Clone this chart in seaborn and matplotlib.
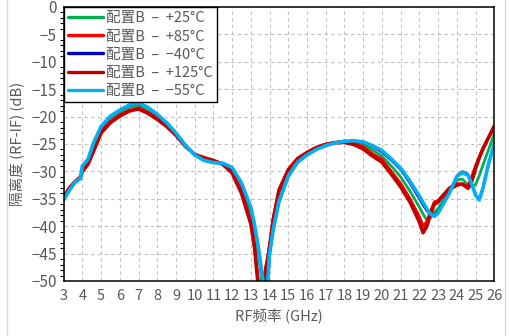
import matplotlib
matplotlib.use('Agg')
import matplotlib.pyplot as plt
import seaborn as sns
from matplotlib.lines import Line2D
from matplotlib.ticker import MultipleLocator

# frequency points (GHz)
freq = [3.0, 3.3, 3.6, 3.9, 4.0, 4.3, 4.6, 5.0, 5.5, 6.0, 6.5, 7.0, 7.5, 8.0, 8.5,
        9.0, 9.5, 10.0, 10.5, 11.0, 11.5, 12.0, 12.5, 13.0, 13.2, 13.4, 13.5, 13.6,
        13.7, 13.8, 13.9, 14.0, 14.2, 14.5, 15.0, 15.5, 16.0, 16.5, 17.0, 17.5, 18.0,
        18.5, 19.0, 19.5, 20.0, 20.5, 21.0, 21.5, 22.0, 22.2, 22.4, 22.6, 22.8, 23.0,
        23.3, 23.6, 24.0, 24.3, 24.6, 24.8, 25.0, 25.2, 25.4, 25.7, 26.0]

iso_p25 = [-35.0, -33.3, -32.0, -31.2, -29.3, -28.0, -25.3, -22.2, -20.3, -19.2, -18.3, -17.9, -18.6, -19.8, -21.3,
           -23.1, -25.2, -27.0, -27.9, -28.3, -28.6, -29.6, -32.5, -37.6, -41.0, -45.0, -47.5, -51.0,
           -58.0, -51.0, -47.0, -44.0, -39.5, -34.8, -30.4, -28.0, -26.8, -25.8, -25.1, -24.7, -24.5,
           -24.6, -25.0, -26.1, -27.2, -29.0, -31.0, -33.6, -36.5, -37.8, -38.9, -38.4, -37.5, -36.8,
           -35.2, -33.6, -31.6, -31.4, -32.5, -32.8, -32.4, -30.8, -28.8, -26.0, -23.2]

iso_p85 = [-34.6, -33.0, -31.8, -31.0, -29.8, -28.5, -26.0, -22.8, -20.9, -19.7, -18.9, -18.4, -19.2, -20.3, -21.6,
           -23.2, -25.3, -26.9, -27.6, -28.1, -28.6, -30.1, -33.6, -39.2, -43.5, -50.5, -58.0, -52.0,
           -50.0, -47.5, -45.8, -43.5, -38.5, -33.3, -29.6, -27.6, -26.5, -25.6, -25.0, -24.7, -24.5,
           -24.8, -25.5, -26.8, -27.8, -30.0, -32.2, -35.0, -38.3, -40.0, -39.2, -37.3, -35.6, -35.3,
           -34.2, -33.0, -32.2, -32.4, -32.6, -31.0, -29.0, -27.5, -26.0, -23.8, -21.7]

iso_m40 = [-35.1, -33.4, -32.0, -31.3, -29.1, -27.9, -25.0, -22.0, -20.0, -18.9, -18.0, -17.6, -18.4, -19.7, -21.2,
           -23.0, -25.2, -27.0, -28.0, -28.4, -28.6, -29.5, -32.3, -37.0, -40.2, -44.0, -46.5, -49.0,
           -53.0, -58.0, -51.0, -45.5, -40.8, -35.8, -31.0, -28.4, -27.0, -26.0, -25.3, -24.8, -24.5,
           -24.4, -24.7, -25.5, -26.5, -28.0, -29.7, -32.2, -35.0, -36.2, -37.2, -38.0, -38.0, -37.3,
           -35.6, -33.8, -30.8, -30.0, -30.5, -32.2, -34.2, -35.0, -33.2, -28.8, -24.7]

iso_p125 = [-34.8, -33.1, -32.0, -31.1, -30.0, -28.7, -26.3, -23.0, -21.1, -19.9, -19.0, -18.6, -19.4, -20.5, -21.8,
            -23.4, -25.4, -26.9, -27.5, -28.0, -28.7, -30.3, -34.0, -39.6, -44.0, -51.0, -58.0, -53.0,
            -50.0, -47.8, -46.0, -43.8, -38.8, -33.6, -29.8, -27.7, -26.6, -25.7, -25.1, -24.8, -24.7,
            -25.1, -25.9, -27.2, -28.3, -30.5, -32.8, -35.6, -39.2, -41.2, -40.0, -37.8, -36.0, -35.6,
            -34.3, -33.3, -32.5, -32.3, -33.1, -31.8, -29.5, -27.5, -25.8, -23.8, -21.8]

iso_m55 = [-35.2, -33.5, -32.0, -31.3, -29.0, -27.8, -24.8, -21.8, -19.9, -18.8, -17.9, -17.5, -18.3, -19.6, -21.1,
           -23.0, -25.2, -27.0, -28.0, -28.4, -28.5, -29.3, -32.1, -36.6, -39.8, -43.8, -46.3, -48.8,
           -51.0, -58.0, -50.5, -45.0, -40.5, -35.5, -30.8, -28.3, -27.0, -26.0, -25.3, -24.8, -24.5,
           -24.4, -24.6, -25.3, -26.2, -27.7, -29.4, -31.8, -34.5, -35.7, -36.8, -37.8, -38.2, -37.6,
           -35.8, -34.0, -31.0, -30.2, -30.7, -32.3, -34.3, -35.2, -33.0, -28.5, -25.0]

series = [
    ('配置B  –  +25°C', iso_p25, '#00B050', 2.0),
    ('配置B  –  +85°C', iso_p85, '#FF0000', 2.2),
    ('配置B  –  −40°C', iso_m40, '#0000C8', 1.6),
    ('配置B  –  +125°C', iso_p125, '#C00000', 2.6),
    ('配置B  –  −55°C', iso_m55, '#00B0F0', 2.6),
]

sns.set_style('white')
plt.rcParams['font.family'] = ['Noto Sans CJK SC', 'DejaVu Sans']
plt.rcParams['axes.unicode_minus'] = True
grey = '#595959'

fig = plt.figure(figsize=(5.09, 3.36), dpi=100)
ax = fig.add_axes([0.125, 0.1637, 0.846, 0.8155])

for name, vals, col, lw in series:
    sns.lineplot(x=freq, y=vals, ax=ax, color=col, linewidth=lw, label=name)

ax.set_xlim(3, 26)
ax.set_ylim(-50, 0)
ax.xaxis.set_major_locator(MultipleLocator(1))
ax.yaxis.set_major_locator(MultipleLocator(5))
ax.yaxis.set_minor_locator(MultipleLocator(1))
ax.grid(True, which='major', color='#BFBFBF', linestyle=(0, (3, 3)), linewidth=0.8)
ax.set_axisbelow(True)
for s in ax.spines.values():
    s.set_color('black')
    s.set_linewidth(1.1)

ax.tick_params(axis='both', which='major', direction='inout', length=6, width=1,
               color='black', labelcolor=grey, labelsize=10.5, pad=2)
ax.tick_params(axis='y', which='major', labelsize=11)
ax.tick_params(axis='y', which='minor', direction='out', length=3, width=0.8, color='black', left=True)
ax.tick_params(axis='x', which='major', direction='out', length=4)

ax.set_xlabel('RF频率 (GHz)', color=grey, fontsize=10.5, labelpad=4)
ax.set_ylabel('隔离度 (RF-IF) (dB)', color=grey, fontsize=10.5, labelpad=4)

leg = ax.legend(loc='upper left', bbox_to_anchor=(0, 1), borderaxespad=0,
                fancybox=False, edgecolor='black', framealpha=1, fontsize=10.5,
                handlelength=2.4, handletextpad=0.2, labelspacing=0.28,
                borderpad=0.3)
leg.get_frame().set_linewidth(1.0)
for t in leg.get_texts():
    t.set_color(grey)
for h in leg.get_lines():
    h.set_linewidth(2.4)

# light chart-area border lines
fig.add_artist(Line2D([7 / 509, 7 / 509], [0, 1], transform=fig.transFigure, color='#D9D9D9', lw=1))
fig.add_artist(Line2D([505 / 509, 505 / 509], [0, 1], transform=fig.transFigure, color='#D9D9D9', lw=1))

fig.savefig('out.png', dpi=100)
